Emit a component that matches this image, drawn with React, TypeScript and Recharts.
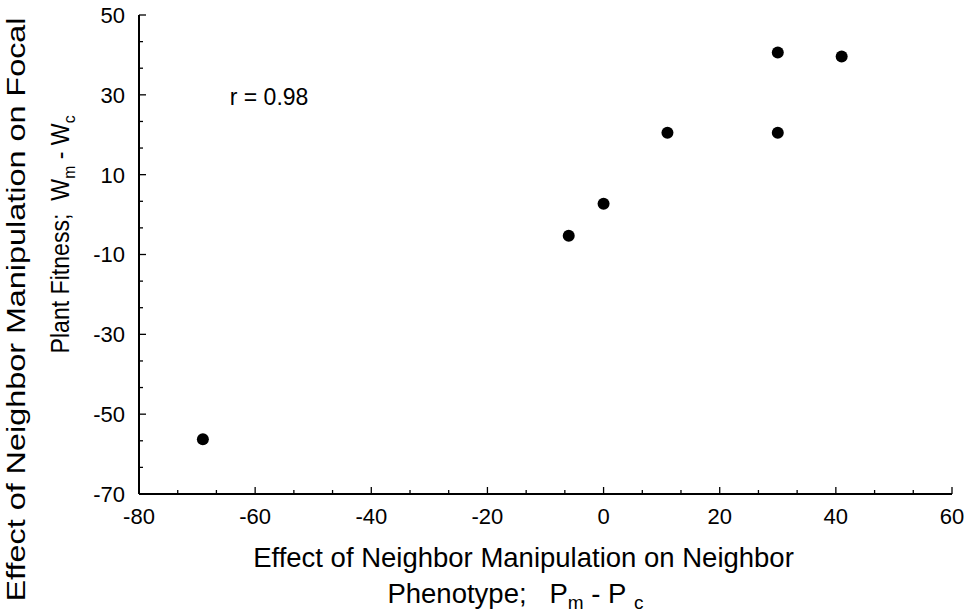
import { ScatterChart, Scatter, XAxis, YAxis, ReferenceDot } from 'recharts';

// neighbor phenotype effect (Pm - Pc) and focal fitness effect (Wm - Wc)
const xValues = [-69, -6, 0, 11, 30, 30, 41];
const yValues = [-56.3, -5.3, 2.7, 20.5, 20.5, 40.6, 39.6];

const xMajor = [-80, -60, -40, -20, 0, 20, 40, 60];
const yMajor = [-70, -50, -30, -10, 10, 30, 50];
// minor ticks sit at thirds between the labelled ones
const xTicks = [-80, -73.33, -66.67, -60, -53.33, -46.67, -40, -33.33, -26.67, -20, -13.33, -6.67, 0, 6.67, 13.33, 20, 26.67, 33.33, 40, 46.67, 53.33, 60];
const yTicks = [-70, -63.33, -56.67, -50, -43.33, -36.67, -30, -23.33, -16.67, -10, -3.33, 3.33, 10, 16.67, 23.33, 30, 36.67, 43.33, 50];

const data = xValues.map((x, i) => ({ x, y: yValues[i] }));

const FONT = "'Liberation Sans', Arial, sans-serif";
const MARGIN = 14;

const BottomTick = ({ x, y, payload }: any) => {
  const major = xMajor.includes(payload.value);
  return (
    <g>
      <line x1={x} x2={x} y1={y - MARGIN} y2={y - MARGIN - (major ? 7 : 4)} stroke="#000" strokeWidth={1.3} />
      {major && (
        <text x={x} y={y} dy="0.71em" textAnchor="middle" fontSize={22} fontFamily={FONT} fill="#000">
          {payload.value}
        </text>
      )}
    </g>
  );
};

const LeftTick = ({ x, y, payload }: any) => {
  const major = yMajor.includes(payload.value);
  return (
    <g>
      <line x1={x + MARGIN} x2={x + MARGIN + (major ? 7 : 4)} y1={y} y2={y} stroke="#000" strokeWidth={1.3} />
      {major && (
        <text x={x} y={y} dy="0.36em" textAnchor="end" fontSize={22} fontFamily={FONT} fill="#000">
          {payload.value}
        </text>
      )}
    </g>
  );
};

const TopTick = ({ x, y, payload }: any) => {
  const major = xMajor.includes(payload.value);
  return <line x1={x} x2={x} y1={y} y2={y + (major ? 7 : 4)} stroke="#000" strokeWidth={1.3} />;
};

const RightTick = ({ x, y, payload }: any) => {
  const major = yMajor.includes(payload.value);
  return <line x1={x} x2={x - (major ? 7 : 4)} y1={y} y2={y} stroke="#000" strokeWidth={1.3} />;
};

const XTitle = ({ viewBox }: any) => {
  const cx = viewBox.x + viewBox.width / 2 - 22;
  return (
    <g fontFamily={FONT} fill="#000" fontSize={27.5}>
      <text x={cx} y={viewBox.y + 73} textAnchor="middle">
        Effect of Neighbor Manipulation on Neighbor
      </text>
      <text x={cx - 8} y={viewBox.y + 109} textAnchor="middle">
        Phenotype;{'\u00a0\u00a0\u00a0'}P
        <tspan fontSize={19} dy={6}>m</tspan>
        <tspan dy={-6}>{' - P\u00a0'}</tspan>
        <tspan fontSize={19} dy={6}>c</tspan>
      </text>
    </g>
  );
};

const YTitle = ({ viewBox }: any) => {
  const cy = viewBox.y + viewBox.height / 2;
  const y1 = cy + 55;
  const y2 = cy - 20;
  return (
    <g fontFamily={FONT} fill="#000" fontSize={25}>
      <text x={25} y={y1} textAnchor="middle" transform={`rotate(-90, 25, ${y1})`} textLength={584} lengthAdjust="spacingAndGlyphs">
        Effect of Neighbor Manipulation on Focal
      </text>
      <text x={69} y={y2} textAnchor="middle" transform={`rotate(-90, 69, ${y2})`} textLength={238} lengthAdjust="spacingAndGlyphs">
        Plant Fitness;{'\u00a0\u00a0'}W
        <tspan fontSize={17} dy={6}>m</tspan>
        <tspan dy={-6}>{' - W'}</tspan>
        <tspan fontSize={17} dy={6}>c</tspan>
      </text>
    </g>
  );
};

export default function App() {
  return (
    <div style={{ position: 'absolute', left: 0, top: 0, background: '#fff' }}>
      <ScatterChart width={973} height={615} margin={{ top: 15, right: 21, bottom: 0, left: 0 }}>
        <XAxis
          type="number"
          dataKey="x"
          domain={[-80, 60]}
          allowDataOverflow
          ticks={xTicks}
          interval={0}
          height={121}
          tickSize={0}
          tickMargin={MARGIN}
          tick={(p: any) => <BottomTick {...p} />}
          axisLine={{ stroke: '#000', strokeWidth: 2 }}
          label={{ content: (p: any) => <XTitle {...p} /> }}
        />
        <XAxis
          xAxisId="t"
          orientation="top"
          type="number"
          domain={[-80, 60]}
          allowDataOverflow
          ticks={xTicks}
          interval={0}
          height={0}
          tickSize={0}
          tickMargin={0}
          tick={(p: any) => <TopTick {...p} />}
          axisLine={{ stroke: '#000', strokeWidth: 2 }}
        />
        <YAxis
          type="number"
          dataKey="y"
          domain={[-70, 50]}
          allowDataOverflow
          ticks={yTicks}
          interval={0}
          width={139}
          tickSize={0}
          tickMargin={MARGIN}
          tick={(p: any) => <LeftTick {...p} />}
          axisLine={{ stroke: '#000', strokeWidth: 2 }}
          label={{ content: (p: any) => <YTitle {...p} /> }}
        />
        <YAxis
          yAxisId="r"
          orientation="right"
          type="number"
          domain={[-70, 50]}
          allowDataOverflow
          ticks={yTicks}
          interval={0}
          width={0}
          tickSize={0}
          tickMargin={0}
          tick={(p: any) => <RightTick {...p} />}
          axisLine={{ stroke: '#000', strokeWidth: 2 }}
        />
        <ReferenceDot
          x={-57.6}
          y={29.5}
          r={1}
          fillOpacity={0}
          strokeOpacity={0}
          label={{ value: 'r = 0.98', position: 'center', fill: '#000', fontSize: 23, fontFamily: FONT }}
        />
        <Scatter
          data={data}
          isAnimationActive={false}
          shape={(p: any) => <circle cx={p.cx} cy={p.cy} r={6} fill="#000" />}
        />
      </ScatterChart>
    </div>
  );
}
